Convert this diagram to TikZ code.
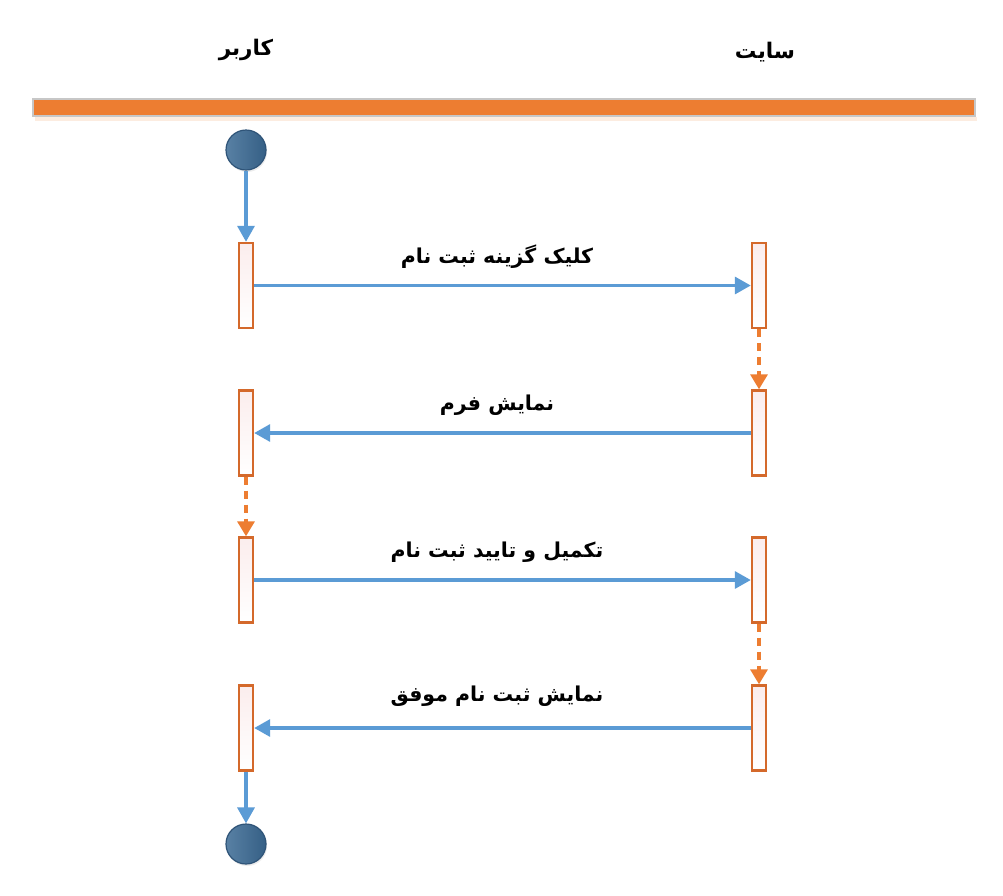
\documentclass[tikz,border=0pt]{standalone}
\usepackage{fontspec}
\newfontfamily\arabicfont[Script=Arabic]{DejaVu Sans}
\TeXXeTstate=1
\usetikzlibrary{arrows.meta,shadows}
\definecolor{barorange}{HTML}{ED7D31}
\definecolor{boxorange}{HTML}{D4692B}
\definecolor{msgblue}{HTML}{5B9BD5}
\definecolor{dotblue}{HTML}{3B6A94}
\definecolor{dotedge}{HTML}{2F5478}
\definecolor{boxtop}{HTML}{FBEDED}
\tikzset{
  actbox/.style={draw=boxorange, line width=2.4pt, top color=boxtop, bottom color=white,
    minimum width=14pt, minimum height=85pt, inner sep=0pt},
  dot/.style={circle, draw=dotedge, line width=1.2pt, left color=dotblue!85!white, right color=dotblue!90!black,
    minimum size=40pt, inner sep=0pt, drop shadow={opacity=0.15, shadow xshift=1pt, shadow yshift=-2pt}},
  msg/.style={draw=msgblue, line width=3.3pt, -{Triangle[length=16pt,width=17pt]}},
  ctl/.style={draw=barorange, line width=3.3pt, dash pattern=on 8pt off 6pt, -{Triangle[length=15pt,width=17pt]}},
  lbl/.style={font=\arabicfont\bfseries\fontsize{20.5}{24}\selectfont, inner sep=0pt},
  hdr/.style={font=\arabicfont\bfseries\fontsize{21.5}{24}\selectfont, inner sep=0pt}
}
\begin{document}
\begin{tikzpicture}[x=1pt,y=-1pt]
\useasboundingbox (0,0) rectangle (1003,895);
\fill[white] (0,0) rectangle (1003,895);
% headers
\node[hdr] (hu) at (246,50) {\beginR کاربر\endR};
\node[hdr] (hs) at (765,52) {\beginR سایت\endR};
% lane bar
\fill[barorange!15] (35,117) rectangle (977,121);
\node[draw=black!22, line width=2pt, fill=barorange, minimum width=942pt, minimum height=17pt, inner sep=0pt] (bar) at (504,107.5) {};
% start / end
\node[dot] (start) at (246,150) {};
\node[dot] (stop) at (246,844) {};
% activation boxes
\node[actbox] (u1) at (246,285.5) {};
\node[actbox] (u2) at (246,433) {};
\node[actbox] (u3) at (246,580) {};
\node[actbox] (u4) at (246,728) {};
\node[actbox] (s1) at (759,285.5) {};
\node[actbox] (s2) at (759,433) {};
\node[actbox] (s3) at (759,580) {};
\node[actbox] (s4) at (759,728) {};
% flow
\draw[msg] (start.south) -- (u1.north);
\draw[msg] (u4.south) -- (stop.north);
\draw[msg] (u1.east) -- (s1.west);
\draw[msg] (s2.west) -- (u2.east);
\draw[msg] (u3.east) -- (s3.west);
\draw[msg] (s4.west) -- (u4.east);
\draw[ctl] (s1.south) -- (s2.north);
\draw[ctl] (u2.south) -- (u3.north);
\draw[ctl] (s3.south) -- (s4.north);
% labels
\node[lbl] (l1) at (497,257) {\beginR کلیک گزینه ثبت نام\endR};
\node[lbl] (l2) at (497,405) {\beginR نمایش فرم\endR};
\node[lbl] (l3) at (497,552) {\beginR تکمیل و تایید ثبت نام\endR};
\node[lbl] (l4) at (497,696) {\beginR نمایش ثبت نام موفق\endR};
\end{tikzpicture}
\end{document}
